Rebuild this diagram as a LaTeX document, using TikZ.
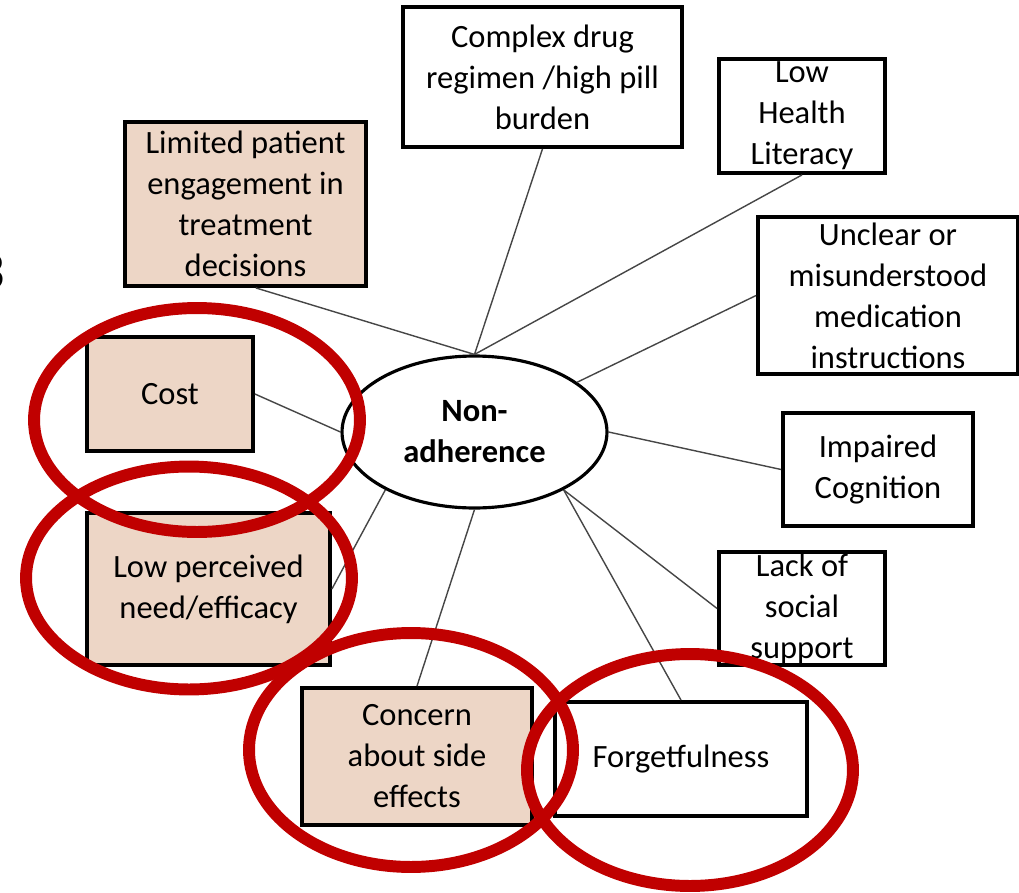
\documentclass[tikz,border=0pt]{standalone}
\usepackage{fontspec}
\setmainfont{Carlito}
\usetikzlibrary{shapes.geometric}
\definecolor{barrierfill}{RGB}{237,214,198}
\definecolor{ringred}{RGB}{192,0,0}
\definecolor{spokegray}{RGB}{70,70,70}
\tikzset{
  factor/.style={draw, fill=white, line width=2.2pt, inner sep=0pt, align=center, font=\fontsize{18.5}{23.3}\selectfont},
  barrier/.style={factor, fill=barrierfill},
  hub/.style={ellipse, draw, line width=1.8pt, inner sep=0pt, align=center, font=\bfseries\fontsize{18.5}{23.3}\selectfont},
  spoke/.style={draw=spokegray, line width=0.8pt},
  ring/.style={draw=ringred, line width=6.8pt}
}

\begin{document}
\begin{tikzpicture}[x=0.02cm, y=-0.02cm]
  \useasboundingbox (0,0) rectangle (1019,893);
  \node[font=\fontsize{31}{31}\selectfont, anchor=east, inner sep=0pt] (cutdigit) at (5,272) {3};

  \node[factor, minimum width=5.58cm, minimum height=2.8cm] (complex) at (542.5,77) {Complex drug\\regimen /high pill\\burden};
  \node[factor, minimum width=3.32cm, minimum height=2.28cm] (literacy) at (802,116) {Low\\Health\\Literacy};
  \node[barrier, minimum width=4.82cm, minimum height=3.28cm] (engage) at (245.5,204) {Limited patient\\engagement in\\treatment\\decisions};
  \node[factor, minimum width=5.2cm, minimum height=3.14cm] (unclear) at (888,295.5) {Unclear or\\misunderstood\\medication\\instructions};
  \node[barrier, minimum width=3.32cm, minimum height=2.28cm] (cost) at (170,394) {Cost};
  \node[hub, minimum width=5.3cm, minimum height=3.04cm] (nonadh) at (474.5,432) {Non-\\adherence};
  \node[factor, minimum width=3.8cm, minimum height=2.26cm] (cognition) at (878,469.5) {Impaired\\Cognition};
  \node[barrier, minimum width=4.86cm, minimum height=3.04cm] (need) at (208.5,589) {Low perceived\\need/efficacy};
  \node[factor, minimum width=3.32cm, minimum height=2.26cm] (support) at (802,608.5) {Lack of\\social\\support};
  \node[barrier, minimum width=4.6cm, minimum height=2.74cm] (sideeff) at (417,756.5) {Concern\\about side\\effects};
  \node[factor, minimum width=5.04cm, minimum height=2.28cm] (forget) at (681,759) {Forgetfulness};

  \draw[spoke] (engage.-83) -- (nonadh.north);
  \draw[spoke] (complex.south) -- (nonadh.north);
  \draw[spoke] (literacy.south) -- (nonadh.north);
  \draw[spoke] (unclear.west) -- (nonadh);
  \draw[spoke] (cost.east) -- (nonadh.west);
  \draw[spoke] (cognition.west) -- (nonadh.east);
  \draw[spoke] (need.east) -- (nonadh.213);
  \draw[spoke] (sideeff.north) -- (nonadh.south);
  \draw[spoke] (support.west) -- (nonadh.-33);
  \draw[spoke] (forget.north) -- (nonadh.-33);

  \draw[ring] (197,420) ellipse [x radius=3.26cm, y radius=2.24cm];
  \draw[ring] (189,578) ellipse [x radius=3.26cm, y radius=2.23cm];
  \draw[ring] (411,750) ellipse [x radius=3.24cm, y radius=2.34cm];
  \draw[ring] (690,770) ellipse [x radius=3.26cm, y radius=2.32cm];
\end{tikzpicture}
\end{document}
